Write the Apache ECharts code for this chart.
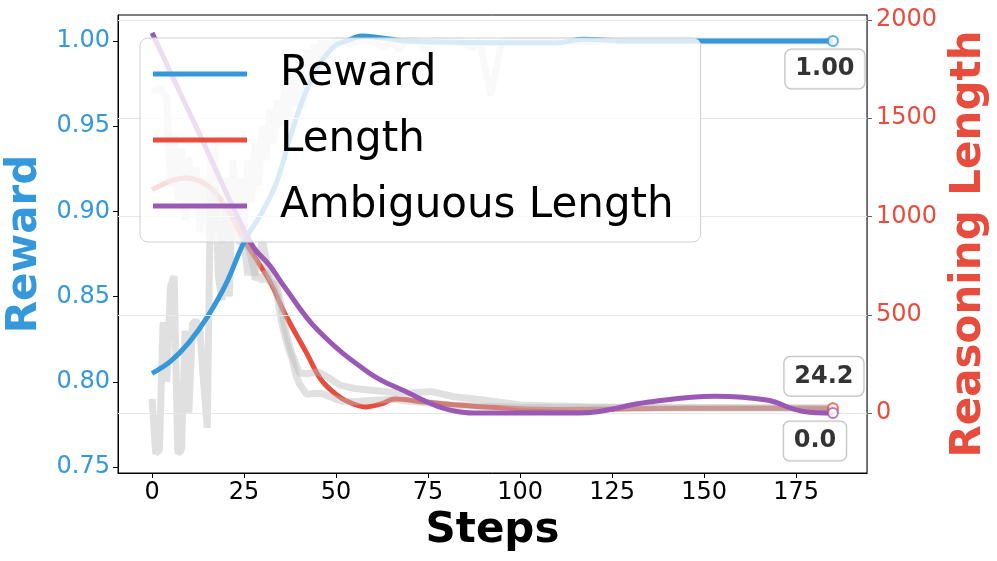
<!DOCTYPE html>
<html>
<head>
<meta charset="utf-8">
<script src="https://cdn.jsdelivr.net/npm/echarts@6/dist/echarts.min.js"></script>
<style>
  html, body { margin: 0; padding: 0; background: #fff; }
  #chart { width: 997px; height: 561px; }
</style>
</head>
<body>
<div id="chart"></div>
<script>
// tick labels
var stepTicks = [0, 25, 50, 75, 100, 125, 150, 175];
var rewardTicks = [0.75, 0.80, 0.85, 0.90, 0.95, 1.00];
var lengthTicks = [0, 500, 1000, 1500, 2000];

// smoothed curves
var rewardSteps = [0, 5, 10, 15, 20, 25, 30, 34, 38, 43, 49, 54, 57, 62, 70, 90, 110, 117, 130, 185];
var rewardValues = [0.805, 0.812, 0.823, 0.838, 0.857, 0.882, 0.900, 0.918, 0.947, 0.976, 0.996, 1.001, 1.003, 1.002, 1.000, 0.999, 0.999, 1.001, 1.000, 1.000];

var lengthSteps = [0, 5, 9, 13, 17, 21, 25, 32, 36, 42, 46, 50, 53, 58, 62, 66, 74, 91, 109, 130, 160, 185];
var lengthValues = [1135, 1180, 1196, 1180, 1125, 1020, 880, 670, 509, 305, 168, 95, 60, 31, 45, 71, 56, 31, 18, 22, 25, 24.2];

var ambigSteps = [0, 13, 27, 32, 36, 45, 59, 68, 81, 90, 116, 135, 153, 167, 177, 185];
var ambigValues = [1934, 1415, 860, 750, 641, 422, 204, 117, 15, 0, 0, 56, 86, 66, 8, 0];

// raw (grey) traces
var rawRewardSteps = [0, 1, 2, 3, 4, 5, 6, 7, 8, 9, 10, 11, 12, 13, 14, 15, 16, 17, 18, 19, 20, 21, 22, 23, 24, 25, 26, 27, 28, 29, 30, 31, 32, 33, 34, 35, 36, 37, 38, 39, 40, 41, 42, 43, 44, 45, 46, 47, 48, 49, 50, 52, 54, 56, 58, 60, 63, 65, 67, 69, 72, 74, 76, 80, 84, 87, 89, 92, 95, 100, 110, 120, 140, 160, 185];
var rawRewardValues = [0.790, 0.758, 0.760, 0.835, 0.800, 0.856, 0.862, 0.758, 0.760, 0.830, 0.782, 0.834, 0.836, 0.830, 0.800, 0.773, 0.930, 0.940, 0.862, 0.848, 0.920, 0.850, 0.930, 0.895, 0.920, 0.890, 0.930, 0.905, 0.940, 0.915, 0.950, 0.930, 0.960, 0.940, 0.965, 0.950, 0.972, 0.950, 0.985, 0.962, 0.990, 0.960, 0.995, 0.975, 0.998, 0.985, 1.000, 0.990, 1.000, 0.995, 1.000, 1.000, 0.998, 1.000, 1.000, 1.000, 0.996, 1.000, 0.995, 1.000, 1.000, 0.995, 1.000, 1.000, 1.000, 0.996, 1.000, 0.968, 1.000, 1.000, 1.000, 1.000, 1.000, 1.000, 1.000];

var rawLengthSteps = [0, 1, 2, 3, 4, 5, 6, 7, 8, 9, 10, 11, 12, 13, 14, 15, 16, 17, 18, 19, 20, 21, 22, 23, 24, 25, 26, 27, 28, 29, 30, 31, 32, 33, 34, 35, 36, 37, 38, 39, 40, 42, 44, 46, 48, 50, 52, 55, 58, 62, 66, 70, 76, 82, 90, 100, 110, 120, 140, 160, 185];
var rawLengthValues = [1650, 1640, 1655, 1630, 1600, 1150, 1420, 1080, 1350, 980, 1300, 1050, 1250, 920, 1200, 1000, 870, 1150, 950, 870, 1080, 900, 880, 980, 860, 880, 700, 860, 680, 700, 670, 720, 665, 660, 600, 480, 400, 330, 280, 200, 150, 95, 100, 100, 85, 70, 60, 58, 62, 66, 70, 60, 50, 40, 35, 30, 28, 28, 26, 25, 25];

var rawLength2Steps = [24, 26, 28, 30, 32, 34, 35, 36, 38, 40, 42, 45, 48, 51, 55, 59, 63, 68, 72, 76, 82, 90, 100, 118, 140, 160, 185];
var rawLength2Values = [900, 860, 700, 880, 690, 640, 560, 440, 300, 205, 200, 210, 180, 142, 125, 117, 110, 100, 105, 109, 83, 66, 41, 32, 30, 28, 27];

var blue = "#3498db";
var red = "#e74c3c";
var purple = "#9b59b6";
var font = "DejaVu Sans";

function pairs(xs, ys) {
  return xs.map(function (x, i) { return [x, ys[i]]; });
}

function endMarker(axisIdx, xs, ys, color, text, offset) {
  var n = xs.length - 1;
  return {
    type: "scatter", yAxisIndex: axisIdx, z: 6, silent: true,
    symbol: "circle", symbolSize: 10,
    itemStyle: { color: "#fff", borderColor: color, borderWidth: 2 },
    data: [[xs[n], ys[n]]],
    label: {
      show: true, position: "inside", offset: offset,
      formatter: text, fontFamily: font, fontSize: 24, fontWeight: "bold", color: "#000",
      textBorderWidth: 0,
      backgroundColor: "#fff", borderColor: "#aaa", borderWidth: 1, borderRadius: 6,
      padding: [8, 10, 7, 10]
    }
  };
}

var chart = echarts.init(document.getElementById("chart"));

var greyLine = { color: "#bbbbbb", width: 7, opacity: 0.45 };

var option = {
  animation: false,
  grid: {
    left: 118, right: 130, top: 15, bottom: 88,
    outerBoundsMode: "none", containLabel: false,
    show: true, borderColor: "#000", borderWidth: 1
  },
  legend: {
    left: 140, top: 38, z: 10,
    orient: "vertical",
    icon: "rect",
    itemWidth: 94, itemHeight: 5, itemGap: 24,
    padding: [15, 27, 15, 13],
    backgroundColor: "rgba(255,255,255,0.8)",
    borderColor: "#d0d0d0", borderWidth: 1, borderRadius: 8,
    textStyle: { fontFamily: font, fontSize: 42, lineHeight: 42, color: "#000", padding: [0, 0, 0, 28] },
    data: ["Reward", "Length", "Ambiguous Length"]
  },
  xAxis: {
    type: "value", min: -9.25, max: 194.25,
    name: "Steps", nameLocation: "middle", nameGap: 28,
    nameTextStyle: { fontFamily: font, fontSize: 42, fontWeight: "bold", color: "#000" },
    axisLine: { show: true, onZero: false, lineStyle: { color: "#000" } },
    axisTick: { show: true, length: 5, customValues: stepTicks, lineStyle: { color: "#000" } },
    axisLabel: { customValues: stepTicks, fontFamily: font, fontSize: 24, color: "#000", margin: 8 },
    splitLine: { show: false }
  },
  yAxis: [
    {
      type: "value", min: 0.7465, max: 1.0153, position: "left",
      name: "Reward", nameLocation: "middle", nameGap: 63, nameRotate: 90,
      nameTextStyle: { fontFamily: font, fontSize: 42, fontWeight: "bold", color: blue },
      axisLine: { show: true, onZero: false, lineStyle: { color: "#000" } },
      axisTick: { show: true, length: 5, customValues: rewardTicks, lineStyle: { color: "#000" } },
      axisLabel: {
        customValues: rewardTicks, fontFamily: font, fontSize: 24, color: blue, margin: 8,
        formatter: function (v) { return v.toFixed(2); }
      },
      splitLine: { show: false }
    },
    {
      type: "value", min: -305, max: 2025, position: "right",
      name: "Reasoning Length", nameLocation: "middle", nameGap: 66, nameRotate: 90,
      nameTextStyle: { fontFamily: font, fontSize: 42, fontWeight: "bold", color: red },
      axisLine: { show: true, onZero: false, lineStyle: { color: "#666" } },
      axisTick: { show: true, length: 5, customValues: lengthTicks, lineStyle: { color: "#666" } },
      axisLabel: {
        customValues: lengthTicks, fontFamily: font, fontSize: 24, color: red, margin: 9,
        formatter: function (v) { return String(v); }
      },
      splitLine: { show: false }
    }
  ],
  series: [
    {
      // grid lines of the length axis
      name: "grid", type: "line", yAxisIndex: 1, data: [[0, 0]],
      symbol: "none", lineStyle: { opacity: 0 }, silent: true, z: 1,
      markLine: {
        silent: true, symbol: "none", label: { show: false },
        lineStyle: { color: "#e6e6e6", width: 1, type: "solid" },
        data: lengthTicks.map(function (v) { return { yAxis: v }; })
      }
    },
    {
      name: "Length", type: "line", yAxisIndex: 1, smooth: 0.4,
      data: pairs(lengthSteps, lengthValues), showSymbol: false, symbol: "none",
      itemStyle: { color: red }, lineStyle: { color: red, width: 5 }, z: 2
    },
    {
      name: "rawReward", type: "line", yAxisIndex: 0,
      data: pairs(rawRewardSteps, rawRewardValues), symbol: "none",
      lineStyle: greyLine, z: 3
    },
    {
      name: "rawLength", type: "line", yAxisIndex: 1,
      data: pairs(rawLengthSteps, rawLengthValues), symbol: "none",
      lineStyle: greyLine, z: 3
    },
    {
      name: "rawLength2", type: "line", yAxisIndex: 1,
      data: pairs(rawLength2Steps, rawLength2Values), symbol: "none",
      lineStyle: greyLine, z: 3
    },
    {
      name: "Reward", type: "line", yAxisIndex: 0, smooth: 0.4,
      data: pairs(rewardSteps, rewardValues), showSymbol: false, symbol: "none",
      itemStyle: { color: blue }, lineStyle: { color: blue, width: 5 }, z: 4
    },
    {
      name: "Ambiguous Length", type: "line", yAxisIndex: 1, smooth: 0.4,
      data: pairs(ambigSteps, ambigValues), showSymbol: false, symbol: "none",
      itemStyle: { color: purple }, lineStyle: { color: purple, width: 5 }, z: 5
    },
    endMarker(0, rewardSteps, rewardValues, blue, "1.00", [-8, 28]),
    endMarker(1, lengthSteps, lengthValues, red, "24.2", [-9, -32]),
    endMarker(1, ambigSteps, ambigValues, purple, "0.0", [-18, 28])
  ]
};

chart.setOption(option);
</script>
</body>
</html>
